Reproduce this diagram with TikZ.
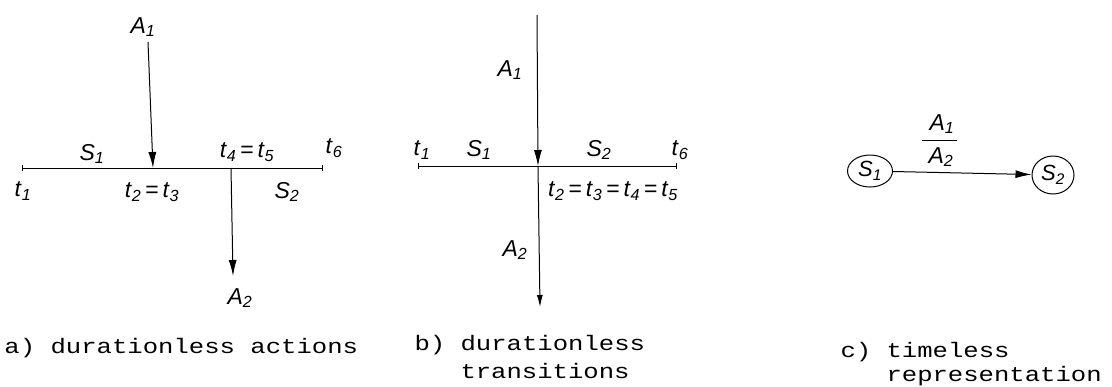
\documentclass[tikz,border=0pt]{standalone}
\usepackage{fontspec}
\setmainfont{Liberation Sans}
\newfontfamily\capfont{Liberation Mono}
\usetikzlibrary{arrows.meta,shapes.geometric}
\newcommand\hw[2]{\textit{#1}\textsubscript{\textit{#2}}}
\newcommand\capt[1]{\scalebox{1.22}[1]{#1}}
\begin{document}
\begin{tikzpicture}[x=1pt,y=-1pt, line width=1pt,
  lab/.style={font=\fontsize{23}{23}\selectfont, inner sep=0pt},
  captext/.style={font=\capfont\fontsize{21}{21}\selectfont, inner sep=0pt, anchor=base west},
  tip/.style={-{Latex[length=16pt,width=8pt]}},
  smalltip/.style={-{Latex[length=12pt,width=6pt]}},
  timeline/.style={{Bar[width=6pt]}-{Bar[width=6pt]}},
  statenode/.style={ellipse, draw, inner sep=0pt, font=\fontsize{22}{22}\selectfont}]
\useasboundingbox (0,0) rectangle (1112,386);

% ---------- a) ----------
\coordinate (aL) at (22,168);
\coordinate (aR) at (323,168);
\coordinate (aA1s) at (148,42);
\coordinate (aX1) at (153,168);
\coordinate (aX2) at (231,168);
\coordinate (aA2e) at (233,276);
\draw[timeline] (aL) -- (aR);
\draw[tip] (aA1s) -- (aX1);
\draw[tip] (aX2) -- (aA2e);
\node[lab] (laA1) at (143,27) {\hw{A}{1}};
\node[lab] (laS1) at (92,154) {\hw{S}{1}};
\node[lab] (laT45) at (247,152) {\hw{t}{4}\,=\,\hw{t}{5}};
\node[lab] (laT6) at (334,148) {\hw{t}{6}};
\node[lab] (laT1) at (23,191) {\hw{t}{1}};
\node[lab] (laT23) at (152,192) {\hw{t}{2}\,=\,\hw{t}{3}};
\node[lab] (laS2) at (287,192) {\hw{S}{2}};
\node[lab] (laA2) at (240,298) {\hw{A}{2}};

% ---------- b) ----------
\coordinate (bL) at (418,166);
\coordinate (bR) at (677,166);
\coordinate (bTop) at (537,15);
\coordinate (bX) at (538,166);
\coordinate (bBot) at (540,307);
\draw[timeline] (bL) -- (bR);
\draw[tip] (bTop) -- (bX);
\draw[smalltip] (bX) -- (bBot);
\node[lab] (lbA1) at (510,70) {\hw{A}{1}};
\node[lab] (lbT1) at (422,150) {\hw{t}{1}};
\node[lab] (lbS1) at (479,150) {\hw{S}{1}};
\node[lab] (lbS2) at (599,150) {\hw{S}{2}};
\node[lab] (lbT6) at (680,150) {\hw{t}{6}};
\node[lab] (lbT25) at (613,191) {\hw{t}{2}\,=\,\hw{t}{3}\,=\,\hw{t}{4}\,=\,\hw{t}{5}};
\node[lab] (lbA2) at (515,250) {\hw{A}{2}};

% ---------- c) ----------
\node[statenode, minimum width=45pt, minimum height=32pt] (cS1) at (870,171) {\hw{S}{1}};
\node[statenode, minimum width=42pt, minimum height=38pt] (cS2) at (1053,175) {\hw{S}{2}};
\draw[tip] (cS1) -- (cS2);
\node[lab] (lcA1) at (942,124) {\hw{A}{1}};
\node[lab] (lcA2) at (941,157) {\hw{A}{2}};
\coordinate (cbarL) at (922,140);
\coordinate (cbarR) at (957,140);
\draw (cbarL) -- (cbarR);

% ---------- captions ----------
\node[captext] (capa) at (4,353) {\capt{a) durationless actions}};
\node[captext] (capb1) at (414,350) {\capt{b) durationless}};
\node[captext] (capb2) at (460,378) {\capt{transitions}};
\node[captext] (capc1) at (840,357) {\capt{c) timeless}};
\node[captext] (capc2) at (886,381) {\capt{representation}};
\end{tikzpicture}
\end{document}
